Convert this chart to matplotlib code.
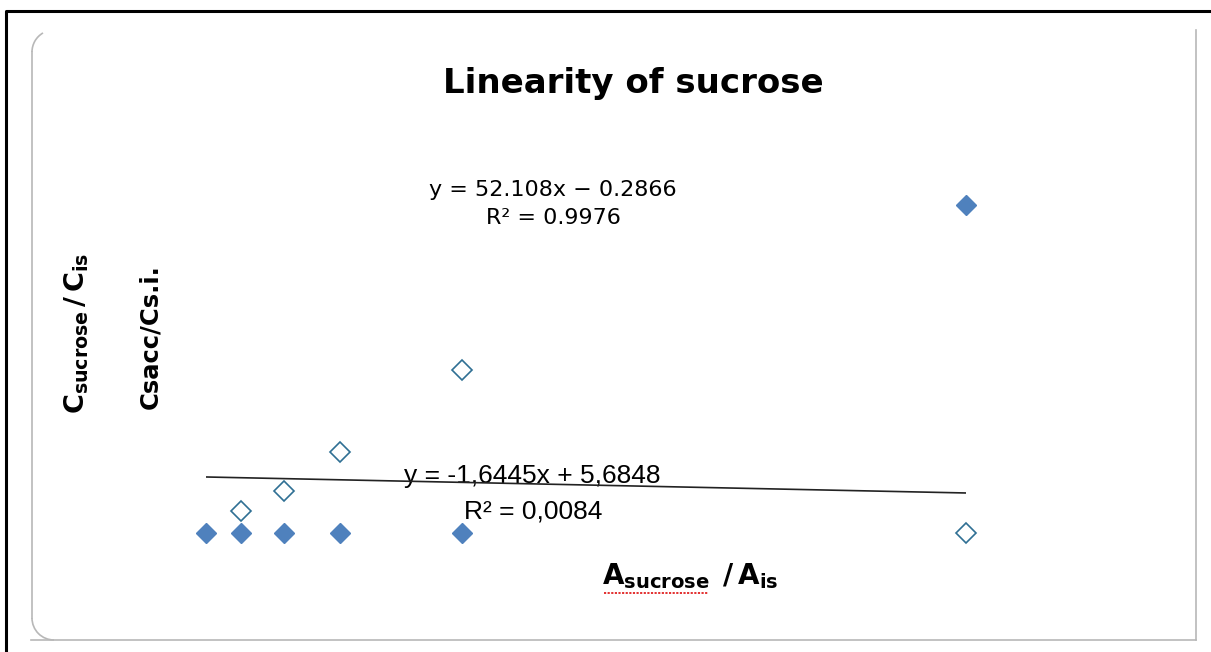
import matplotlib.pyplot as plt
from matplotlib.patches import Arc

# values (x in A ratio units, y in C ratio units)
x_vals = [0.0, 0.046, 0.103, 0.176, 0.337, 1.0]
filled_y = [0.0, 0.0, 0.0, 0.0, 0.0, 50.0]
open_x = [0.046, 0.103, 0.176, 0.337, 1.0]
open_y = [3.35, 6.4, 12.35, 24.85, 0.0]
trend_x = [0.0, 1.0]
trend_y = [8.54, 6.1]

eq1 = ['y = 52.108x \u2212 0.2866', 'R\u00b2 = 0.9976']
eq2 = ['y = -1,6445x + 5,6848', 'R\u00b2 = 0,0084']

W, H = 1211, 652
fig = plt.figure(figsize=(W / 100, H / 100), dpi=100)

# background frame layer in pixel coordinates
deco = fig.add_axes([0, 0, 1, 1])
deco.set_xlim(0, W)
deco.set_ylim(H, 0)
deco.axis('off')

# outer black frame
deco.plot([6, 6, W + 5], [H + 5, 11, 11], color='black', lw=2.2, solid_capstyle='butt')
# inner grey rounded frame (no top edge)
g = '#b8b8b8'
deco.plot([32, 32], [52, 618], color=g, lw=1.2)
deco.plot([31, 1196], [640, 640], color=g, lw=1.2)
deco.plot([1196, 1196], [30, 640], color=g, lw=1.2)
deco.add_patch(Arc((54, 52), 44, 44, theta1=180, theta2=240, color=g, lw=1.2))
deco.add_patch(Arc((54, 618), 44, 44, theta1=90, theta2=180, color=g, lw=1.2))

# data axes
ax = fig.add_axes([206 / W, (H - 533) / H, 760 / W, 328 / H])
ax.set_xlim(0, 1)
ax.set_ylim(0, 50)
ax.axis('off')
ax.patch.set_alpha(0)

ax.plot(trend_x, trend_y, color='#222222', lw=1.2, zorder=2)
ax.plot(x_vals, filled_y, ls='none', marker='D', ms=10.5, color='#4f81bd',
        mec='#4f81bd', clip_on=False, zorder=3)
ax.plot(open_x, open_y, ls='none', marker='D', ms=10, mfc='white',
        mec='#2f6f94', mew=1.2, clip_on=False, zorder=3)

# texts
deco.text(633, 83, 'Linearity of sucrose', fontsize=24.5, fontweight='heavy',
          ha='center', va='center', family='DejaVu Sans')
deco.text(553, 190, eq1[0], fontsize=16, ha='center', va='center', family='DejaVu Sans')
deco.text(553, 218, eq1[1], fontsize=16, ha='center', va='center', family='DejaVu Sans')
deco.text(532, 476, eq2[0], fontsize=19, ha='center', va='center',
          family='Liberation Sans', zorder=4)
deco.text(533, 511, eq2[1], fontsize=19, ha='center', va='center',
          family='Liberation Sans', zorder=4)

deco.text(77, 333, r'$\mathbf{C}_{\mathbf{sucrose}}\,\mathbf{/\,C}_{\mathbf{is}}$',
          fontsize=19.5, rotation=90, ha='center', va='center')
deco.text(150, 337, 'Csacc/Cs.i.', fontsize=17.5, fontweight='bold', rotation=90,
          ha='center', va='center', family='DejaVu Sans')
deco.text(690, 576, r'$\mathbf{A}_{\mathbf{sucrose}}\ \,\mathbf{/\,A}_{\mathbf{is}}$',
          fontsize=20, ha='center', va='center')
deco.plot([604, 708], [593, 593], color='#e02020', lw=1.3, ls=(0, (1.2, 0.8)))

fig.savefig('out.png', dpi=100)
